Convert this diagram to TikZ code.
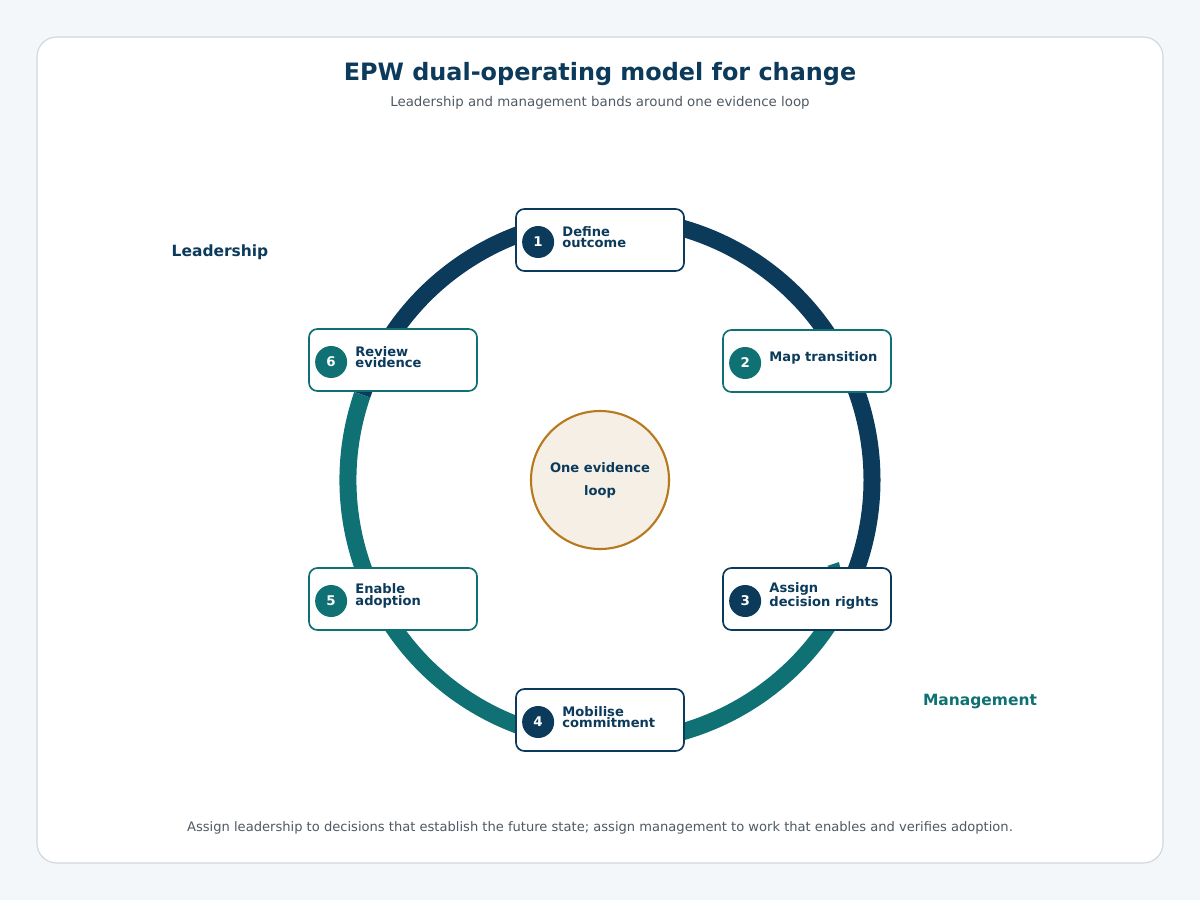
\documentclass[tikz,border=0pt]{standalone}
\usepackage{fontspec}
\setmainfont{DejaVu Sans}
\usetikzlibrary{positioning, arrows.meta}
\definecolor{navy}{HTML}{0B3A5B}
\definecolor{teal}{HTML}{0F7173}
\definecolor{gold}{HTML}{B7791F}
\definecolor{cream}{HTML}{F5EFE6}
\definecolor{note}{HTML}{505A64}
\tikzset{
step/.style = {rectangle, rounded corners = 6pt, draw = #1, line width = 1.2pt,
   fill = white, minimum width = 4.2cm, minimum height = 1.55cm},
badge/.style = {circle, fill = #1, text = white, font = \fontsize{9.5}{9.5}\selectfont\bfseries,
   minimum size = .8cm, inner sep = 0pt},
steptext/.style = {anchor = west, align = left, text = navy, inner sep = 0pt,
   font = \fontsize{9.3}{8}\selectfont\bfseries},
band/.style = {line width = 17*0.025cm, #1},
bandlabel/.style = {font = \fontsize{11}{11}\selectfont\bfseries, text = #1}
}
\newcommand{\stepbox}[5]{%
  \node [step = #4] (s#1) at (#2,#3) {};
  \node [badge = #4] (b#1) at ([xshift = 23*0.025cm, yshift = -2*0.025cm]s#1.west) {#1};
  \node [steptext] (t#1) at ([xshift = 47*0.025cm, yshift = 3*0.025cm]s#1.west) {#5};
}
\begin{document}
\begin{tikzpicture}[x = 0.025cm, y = -0.025cm]
\useasboundingbox [fill = {rgb,255:red,244; green,247; blue,250}] (0,0) rectangle (1200,900);
\draw [rounded corners = 14pt, fill = white, draw = {rgb,255:red,208; green,214; blue,222}, line width = .8pt]
   (37,37) rectangle (1163,863);

%% Title
\node [font = \fontsize{17}{17}\selectfont\bfseries, text = navy] (title) at (600,74) {EPW dual-operating model for change};
\node [font = \fontsize{9.5}{9.5}\selectfont, text = note] (subtitle) at (600,103) {Leadership and management bands around one evidence loop};

%% Bands
\coordinate (c) at (610,480);
\coordinate (tip) at (833,566);
\draw [band = navy] (c) ++(-161:262) arc (-161:21:262);
\draw [band = teal] (c) ++(21:262) arc (21:199:262);
\fill [teal] (tip) ++(-6,0) -- ++(12,-4) -- ++(2,10) -- cycle;

%% Centre
\node [circle, draw = gold, line width = 1.5pt, fill = cream, minimum size = 138*0.025cm,
   align = center, text = navy, font = \fontsize{9.3}{16.5}\selectfont\bfseries] (loop) at (600,480) {One evidence\\loop};

%% Steps
\stepbox{1}{600}{240}{navy}{Define\\outcome}
\stepbox{2}{807}{361}{teal}{Map transition}
\stepbox{3}{807}{599}{navy}{Assign\\decision rights}
\stepbox{4}{600}{720}{navy}{Mobilise\\commitment}
\stepbox{5}{393}{599}{teal}{Enable\\adoption}
\stepbox{6}{393}{360}{teal}{Review\\evidence}

%% Band labels
\node [bandlabel = navy] (lead) at (220,252) {Leadership};
\node [bandlabel = teal] (mgmt) at (980,702) {Management};

%% Footer
\node [font = \fontsize{9.3}{9.3}\selectfont, text = note] (footer) at (600,828)
   {Assign leadership to decisions that establish the future state; assign management to work that enables and verifies adoption.};
\end{tikzpicture}
\end{document}
